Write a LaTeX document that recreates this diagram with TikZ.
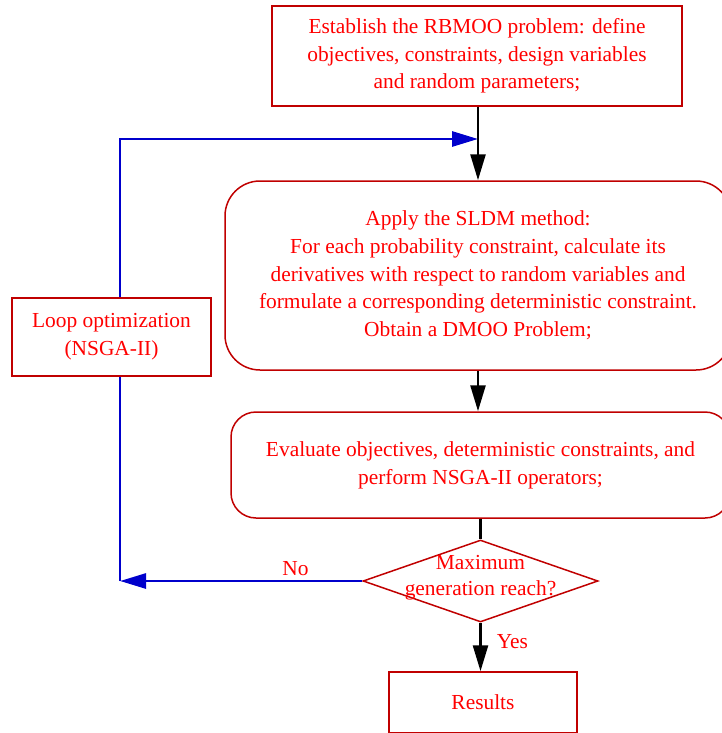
\documentclass[tikz,border=0pt]{standalone}
\usepackage{fontspec}
\setmainfont{Liberation Serif}
\usepackage{tikz}
\usetikzlibrary{arrows.meta,shapes.geometric}
\definecolor{boxred}{HTML}{C00000}
\definecolor{textred}{HTML}{FF0000}
\definecolor{loopblue}{HTML}{0000CC}
\newcommand{\flowfont}{\fontsize{21.4pt}{27.7pt}\selectfont}
\tikzset{
  procbox/.style={draw=boxred,line width=1.5pt,text=textred,font=\flowfont,align=center,inner sep=0pt},
  roundbox/.style={procbox,rounded corners=#1},
  decision/.style={diamond,draw=boxred,line width=1.5pt,inner sep=0pt},
  flowlabel/.style={text=textred,font=\flowfont,inner sep=1pt},
  flowline/.style={line width=2.6pt,-{Triangle[length=26pt,width=15pt]}},
  loopline/.style={line width=2.8pt,loopblue},
}
\begin{document}
\begin{tikzpicture}[x=1pt,y=-1pt]
\useasboundingbox (0,0) rectangle (722,733);
% boxes
\node[procbox,minimum width=410,minimum height=100] (estab) at (477,56)
  {Establish the RBMOO problem: define\\objectives, constraints, design variables\\and random parameters;};
\node[roundbox=35pt,minimum width=506,minimum height=189] (sldm) at (478,275.5)
  {Apply the SLDM method:\\For each probability constraint, calculate its\\derivatives with respect to random variables and\\formulate a corresponding deterministic constraint.\\Obtain a DMOO Problem;};
\node[roundbox=25pt,minimum width=499,minimum height=106] (eval) at (480.5,465)
  {Evaluate objectives, deterministic constraints, and\\perform NSGA-II operators;};
\node[decision,minimum width=235,minimum height=82] (reach) at (480.5,581) {};
\node[flowlabel,align=center,inner sep=0pt,yshift=3.5pt,font=\fontsize{21.4pt}{26pt}\selectfont] (reachtext) at (reach.center)
  {Maximum\\generation reach?};
\node[procbox,minimum width=188,minimum height=61] (result) at (483,702.5) {Results};
\node[procbox,minimum width=199,minimum height=78] (loop) at (111.5,337)
  {Loop optimization\\(NSGA-II)};
\coordinate (noturn) at (120,581);
\coordinate (entry) at (478,139);

% main flow
\draw[flowline] (estab.south -| entry) -- (sldm.north -| entry);
\draw[flowline] (sldm.south -| entry) -- (eval.north -| entry);
\draw[line width=2.6pt] (eval.south -| reach.north) -- (reach.north);
\draw[flowline] (reach.south) -- node[flowlabel,pos=0.38,right=14pt] (yeslabel) {Yes} (reach.south |- result.north);

% loop back
\draw[loopline,-{Triangle[length=26pt,width=15pt]}] (reach.west) -- node[flowlabel,pos=0.276,above=3pt] (nolabel) {No} (noturn);
\draw[loopline] (noturn) -- (noturn |- loop.south);
\draw[loopline,-{Triangle[length=26pt,width=15pt]}] (loop.north -| noturn) |- (entry);
\end{tikzpicture}
\end{document}
